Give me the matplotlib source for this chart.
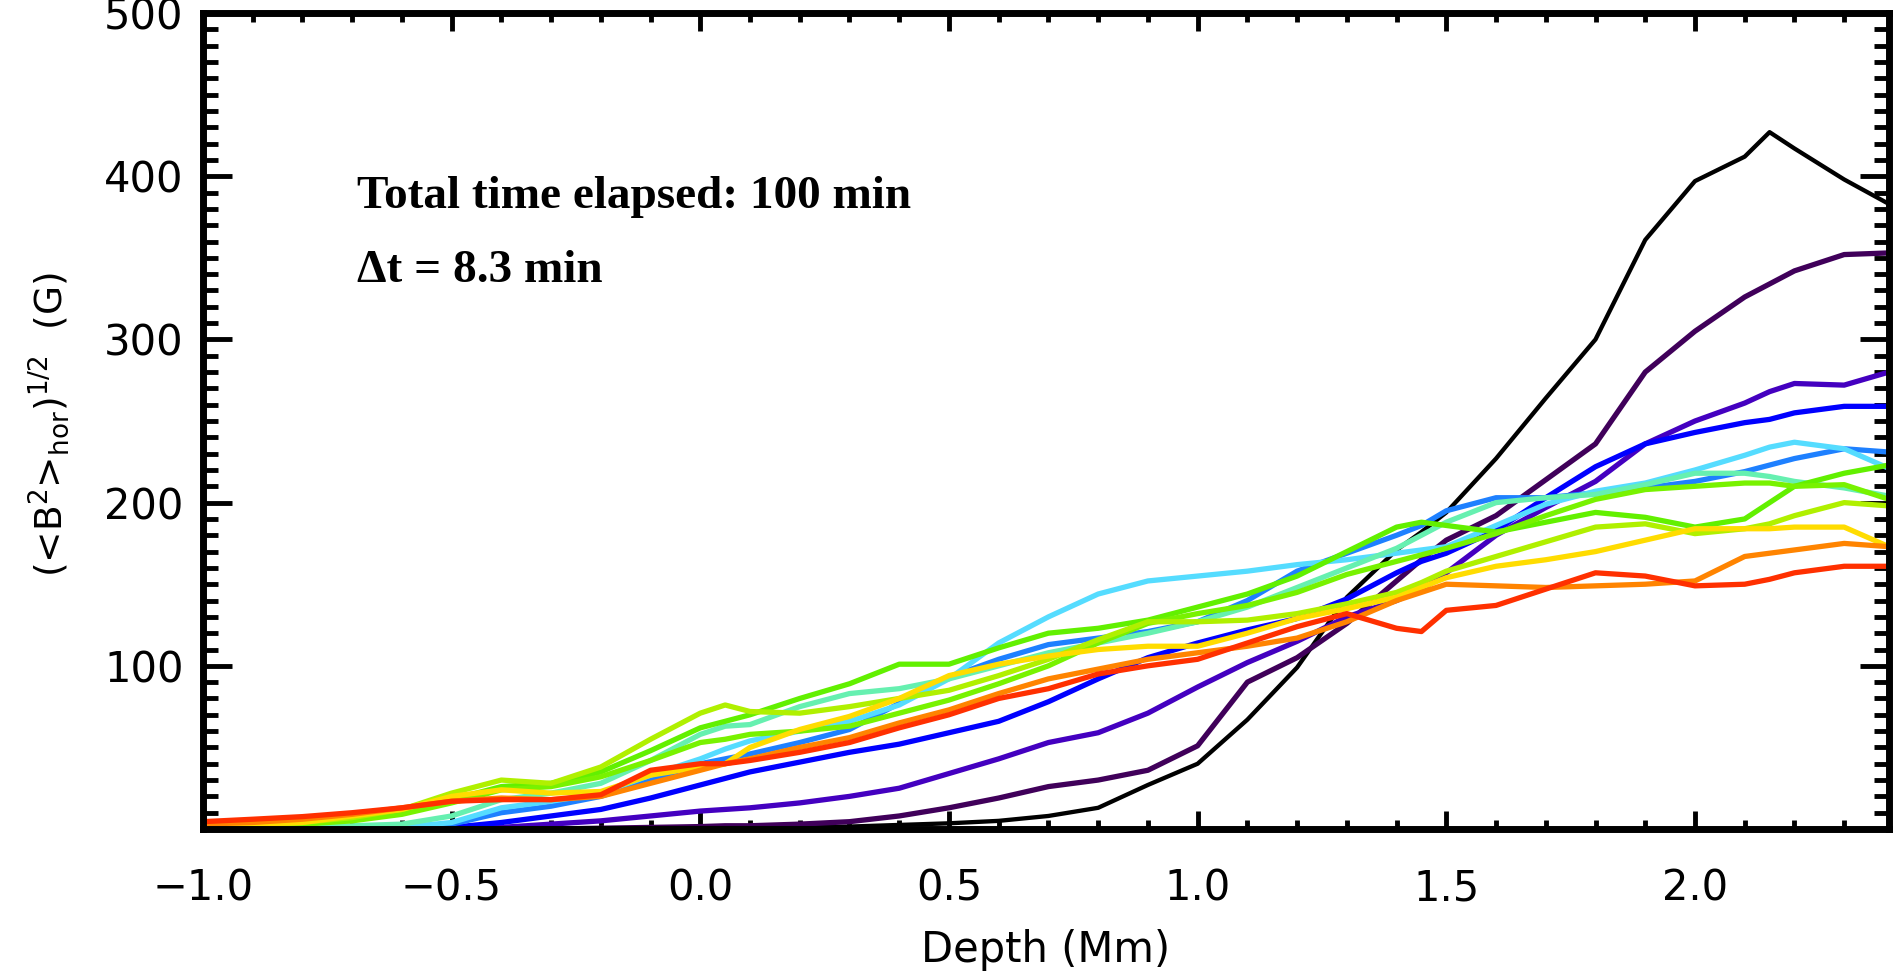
import matplotlib
matplotlib.use('Agg')
import matplotlib.pyplot as plt
from matplotlib.ticker import MultipleLocator

# depth grid (Mm) shared by all profiles
depth = [-1.0, -0.9, -0.8, -0.7, -0.6, -0.5, -0.4, -0.3, -0.2, -0.1,
         0.0, 0.05, 0.1, 0.2, 0.3, 0.4, 0.5, 0.6, 0.7, 0.8,
         0.9, 1.0, 1.1, 1.2, 1.3, 1.4, 1.45, 1.5, 1.6, 1.7,
         1.8, 1.9, 2.0, 2.1, 2.15, 2.2, 2.3, 2.39]

# rms horizontal field (G), one profile every 8.3 min
b_t000 = [0, 0, 0, 0, 0, 0, 0, 0, 0, 0, 0, 0,
          0.5, 1, 1.5, 2.5, 3.5, 5, 8, 13, 27, 40, 67, 99, 142, 171,
          182, 194, 227, 264, 300, 361, 397, 412, 427, 417, 398, 383]
b_t008 = [0, 0, 0, 0, 0, 0, 0, 0, 0.5, 1, 1.5, 2,
          2, 3, 4.5, 8, 13, 19, 26, 30, 36, 51, 90, 105, 126, 152,
          165, 177, 192, 214, 236, 280, 305, 326, 334, 342, 352, 353]
b_t017 = [0, 0, 0, 0, 0, 0, 1, 3, 5, 8, 11, 12,
          13, 16, 20, 25, 34, 43, 53, 59, 71, 87, 102, 115, 130, 140,
          147, 157, 180, 197, 213, 236, 250, 261, 268, 273, 272, 280]
b_t025 = [0, 0, 0, 0, 0, 1, 4, 8, 12, 19, 27, 31,
          35, 41, 47, 52, 59, 66, 78, 92, 105, 114, 122, 129, 141, 157,
          164, 169, 183, 203, 222, 236, 243, 249, 251, 255, 259, 259]
b_t033 = [1, 1, 1, 1, 1.5, 3, 10, 14, 20, 30, 40, 43,
          46, 53, 61, 77, 93, 104, 113, 117, 121, 127, 140, 158, 169, 180,
          186, 195, 203, 203, 206, 209, 213, 219, 223, 227, 233, 231]
b_t042 = [0.5, 0.5, 0.5, 0.5, 1, 4, 13, 17, 22, 33, 43, 49,
          54, 60, 66, 76, 92, 114, 130, 144, 152, 155, 158, 162, 165, 169,
          171, 173, 186, 199, 207, 212, 220, 229, 234, 237, 233, 221]
b_t050 = [1, 1, 1, 2, 3, 8, 18, 22, 28, 42, 58, 63,
          64, 75, 83, 86, 92, 100, 108, 114, 120, 127, 136, 148, 160, 172,
          180, 188, 200, 203, 205, 211, 218, 218, 216, 213, 209, 204]
b_t058 = [1, 2, 3, 6, 10, 18, 26, 28, 35, 48, 62, 66,
          70, 80, 89, 101, 101, 111, 120, 123, 128, 136, 144, 155, 170, 185,
          188, 186, 182, 188, 194, 191, 185, 190, 200, 210, 218, 223]
b_t067 = [1, 2, 3, 5, 9, 16, 24, 26, 32, 42, 53, 55,
          58, 60, 63, 71, 79, 89, 100, 114, 126, 132, 137, 145, 156, 164,
          168, 172, 181, 192, 202, 208, 210, 212, 212, 210, 211, 202]
b_t075 = [1, 2, 4, 7, 12, 22, 30, 28, 38, 55, 71, 76,
          72, 71, 75, 80, 85, 94, 104, 116, 127, 127, 128, 132, 138, 145,
          151, 158, 167, 176, 185, 187, 181, 184, 187, 192, 200, 198]
b_t083 = [2, 3, 4, 8, 12, 20, 24, 22, 23, 33, 38, 40,
          50, 61, 69, 80, 94, 101, 106, 110, 112, 112, 120, 129, 135, 142,
          148, 154, 161, 165, 170, 177, 184, 184, 184, 185, 185, 173]
b_t092 = [3, 4, 6, 9, 13, 17, 19, 18, 20, 28, 36, 40,
          43, 50, 56, 65, 73, 83, 92, 98, 104, 108, 112, 117, 127, 140,
          145, 150, 149, 148, 149, 150, 152, 167, 169, 171, 175, 173]
b_t100 = [4.5, 6, 7.6, 10, 13, 17, 18, 18, 21, 36, 40, 40,
          42, 47, 53, 62, 70, 80, 86, 95, 100, 104, 114, 124, 132, 123,
          121, 134, 137, 147, 157, 155, 149, 150, 153, 157, 161, 161]

profiles = [b_t000, b_t008, b_t017, b_t025, b_t033, b_t042, b_t050,
            b_t058, b_t067, b_t075, b_t083, b_t092, b_t100]
colors = ['#000000', '#40005a', '#4400c0', '#0000ff', '#1e80ff', '#55dcff',
          '#66f0b0', '#62f000', '#78f200', '#b0f000', '#ffdc00', '#ff8400',
          '#ff3000']

x_ticks = [-1.0, -0.5, 0.0, 0.5, 1.0, 1.5, 2.0]
x_tick_labels = ['\u22121.0', '\u22120.5', '0.0', '0.5', '1.0', '1.5', '2.0']
y_ticks = [0, 100, 200, 300, 400, 500]
y_tick_labels = ['', '100', '200', '300', '400', '500']

plt.rcParams['font.family'] = ['DejaVu Sans']

fig = plt.figure(figsize=(18.95, 9.72), dpi=100)
ax = fig.add_axes([0.1071, 0.1471, 0.8897, 0.8395])

for prof, col in zip(profiles, colors):
    lw = 3.1 if col == '#000000' else 3.8
    ax.plot(depth, prof, color=col, linewidth=lw, solid_joinstyle='round')

ax.set_xlim(-1.0, 2.39)
ax.set_ylim(0, 500)
ax.set_axisbelow(True)

ax.set_xticks(x_ticks)
ax.set_xticklabels(x_tick_labels)
ax.set_yticks(y_ticks)
ax.set_yticklabels(y_tick_labels)
ax.xaxis.set_minor_locator(MultipleLocator(0.1))
ax.yaxis.set_minor_locator(MultipleLocator(10))

ax.tick_params(axis='x', which='major', direction='in', length=13, width=3.5,
               top=True, pad=28, labelsize=30)
ax.tick_params(axis='x', which='minor', direction='in', length=6.5, width=3.5,
               top=True)
ax.tick_params(axis='y', which='major', direction='in', length=21, width=3.5,
               right=True, pad=14, labelsize=30)
ax.tick_params(axis='y', which='minor', direction='in', length=11, width=3.5,
               right=True)
for spine in ax.spines.values():
    spine.set_linewidth(5)

ax.set_xlabel('Depth (Mm)', fontsize=30)
ax.xaxis.set_label_coords(0.5, -0.122)
ax.set_ylabel(r'(<B$^{2}$>$_{\rm hor}$)$^{1/2}$  (G)', fontsize=27)
ax.yaxis.set_label_coords(-0.078, 0.495)

ax.text(0.0913, 0.761, 'Total time elapsed: 100 min', transform=ax.transAxes,
        family='Liberation Serif', fontweight='bold', fontsize=34, va='baseline')
ax.text(0.0913, 0.670, '\u0394t = 8.3 min', transform=ax.transAxes,
        family='Liberation Serif', fontweight='bold', fontsize=34, va='baseline')

fig.savefig('out.png', dpi=100, facecolor='white')
